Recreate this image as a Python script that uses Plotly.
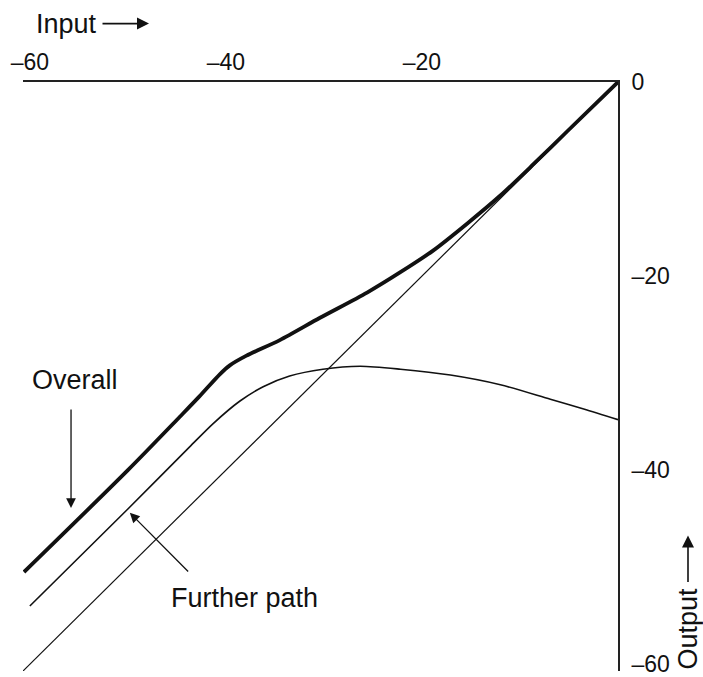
import plotly.graph_objects as go

# Input level (dB) and output level (dB) of each path
direct_in = [-60.7, 0]
direct_out = [-60.7, 0]

further_in = [-60.0, -50.0, -43.7, -41.3, -38.6, -36.2, -33.5, -30.1, -26.3,
              -22.2, -17.1, -12.0, -6.9, -3.5, 0.0]
further_out = [-54.0, -44.0, -37.6, -35.2, -32.9, -31.4, -30.3, -29.6, -29.3,
               -29.6, -30.2, -31.2, -32.7, -33.7, -34.8]

overall_in = [-60.6, -50.0, -44.7, -42.7, -40.6, -39.6, -37.9, -34.5, -30.4,
              -25.6, -22.2, -18.9, -15.4, -12.0, -8.6, -5.2, 0.0]
overall_out = [-50.5, -40.0, -34.5, -32.4, -30.1, -29.2, -28.2, -26.6, -24.3,
               -21.7, -19.6, -17.4, -14.6, -11.7, -8.45, -5.1, 0.0]

x_ticks = [-60, -40, -20]
x_tick_text = ["\u201360", "\u201340", "\u201320"]
y_ticks = [0, -20, -40, -60]
y_tick_text = ["0", "\u201320", "\u201340", "\u201360"]

FONT = "Liberation Sans, Arial, sans-serif"
INK = "#111111"

# Plot area geometry (pixels) used to place the outer labels in paper units
W, H = 703, 677
L, R, T, B = 23, 85, 82, 0
PW, PH = W - L - R, H - T - B


def px(xp):
    return (xp - L) / PW


def py(yp):
    return (H - B - yp) / PH


fig = go.Figure()
fig.add_trace(go.Scatter(x=direct_in, y=direct_out, mode="lines",
                         line=dict(color=INK, width=1.2), hoverinfo="skip"))
fig.add_trace(go.Scatter(x=further_in, y=further_out, mode="lines",
                         line=dict(color=INK, width=1.6, shape="spline", smoothing=0.8),
                         hoverinfo="skip"))
fig.add_trace(go.Scatter(x=overall_in, y=overall_out, mode="lines",
                         line=dict(color=INK, width=3.8, shape="spline", smoothing=0.8),
                         hoverinfo="skip"))

label_font = dict(size=27, color=INK, family=FONT)
ann = []
# Axis names with arrows
ann.append(dict(x=px(66), y=py(23), xref="paper", yref="paper", text="Input",
                xanchor="center", yanchor="middle", showarrow=False, font=label_font))
ann.append(dict(x=px(149), y=py(23), ax=-48, ay=0, xref="paper", yref="paper",
                text="", showarrow=True, arrowhead=2, arrowsize=1.5, arrowwidth=1.6,
                arrowcolor=INK))
ann.append(dict(x=px(688), y=py(634), xref="paper", yref="paper", text="Output",
                xanchor="center", yanchor="middle", showarrow=False, textangle=-90,
                font=label_font))
ann.append(dict(x=px(688), y=py(540), ax=0, ay=48, xref="paper", yref="paper",
                text="", showarrow=True, arrowhead=2, arrowsize=1.5, arrowwidth=1.6,
                arrowcolor=INK))
# Curve labels
ann.append(dict(x=-55.4, y=-30.7, xref="x", yref="y", text="Overall", showarrow=False,
                xanchor="center", yanchor="middle", font=label_font))
ann.append(dict(x=-55.8, y=-43.9, ax=-55.8, ay=-33.6, xref="x", yref="y", axref="x", ayref="y",
                text="", showarrow=True, arrowhead=2, arrowsize=1.5, arrowwidth=1.3,
                arrowcolor=INK))
ann.append(dict(x=-38.1, y=-53.2, xref="x", yref="y", text="Further path", showarrow=False,
                xanchor="center", yanchor="middle", font=label_font))
ann.append(dict(x=-49.8, y=-44.4, ax=-43.7, ay=-50.6, xref="x", yref="y", axref="x", ayref="y",
                text="", showarrow=True, arrowhead=2, arrowsize=1.5, arrowwidth=1.3,
                arrowcolor=INK))

tick_font = dict(size=23, color=INK, family=FONT)
fig.update_layout(
    width=W, height=H,
    margin=dict(l=L, r=R, t=T, b=B, pad=0),
    paper_bgcolor="white", plot_bgcolor="white",
    showlegend=False,
    annotations=ann,
    xaxis=dict(range=[-60.7, 0], side="top", showline=True, linecolor="#222222",
               linewidth=1.6, showgrid=False, zeroline=False, ticks="",
               tickvals=x_ticks, ticktext=x_tick_text, ticklabelstandoff=1,
               ticklabeloverflow="allow", tickfont=tick_font, fixedrange=True),
    yaxis=dict(range=[-60.7, 0], side="right", showline=True, linecolor="#222222",
               linewidth=1.6, showgrid=False, zeroline=False, ticks="",
               tickvals=y_ticks, ticktext=y_tick_text, ticklabelstandoff=7,
               ticklabeloverflow="allow", tickfont=tick_font, fixedrange=True),
)

fig.write_html("out.html")
